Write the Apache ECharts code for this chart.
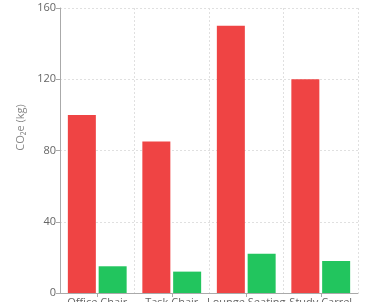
<!DOCTYPE html>
<html><head><meta charset="utf-8">
<script src="https://cdn.jsdelivr.net/npm/echarts@6/dist/echarts.min.js"></script>
<style>html,body{margin:0;padding:0;background:#fff}#c{width:375px;height:302px}</style>
</head><body><div id="c"></div>
<script>
const categories = ["Office Chair", "Task Chair", "Lounge Seating", "Study Carrel"];
const seriesA = [100, 85, 150, 120];
const seriesB = [15, 12, 22, 18];
const yTicks = [0, 40, 80, 120, 160];

const chart = echarts.init(document.getElementById('c'));
chart.setOption({
  animation: false,
  grid: {left: 60, right: 17, top: 8, bottom: 9, containLabel: false, outerBoundsMode: 'none'},
  xAxis: {
    type: 'category', data: categories,
    axisLine: {lineStyle: {color: '#aaa', width: 1}},
    axisTick: {show: true, alignWithLabel: true, length: 4, lineStyle: {color: '#aaa'}},
    axisLabel: {color: '#666', fontSize: 11, margin: 4, fontFamily: 'Open Sans', interval: 0},
    splitLine: {show: true, lineStyle: {color: '#e0e0e0', type: [2, 2]}}
  },
  yAxis: {
    type: 'value', min: yTicks[0], max: yTicks[yTicks.length - 1], interval: 40,
    name: 'CO₂e (kg)', nameLocation: 'middle', nameGap: 31,
    nameTextStyle: {color: '#888', fontSize: 11, fontFamily: 'Open Sans', padding: [0, 0, 0, 46]},
    axisLine: {show: true, lineStyle: {color: '#aaa', width: 1}},
    axisTick: {show: true, length: 4, lineStyle: {color: '#aaa'}},
    axisLabel: {color: '#666', fontSize: 11, margin: 4, fontFamily: 'Open Sans'},
    splitLine: {show: true, lineStyle: {color: '#e0e0e0', type: [2, 2]}}
  },
  series: [
    {type: 'bar', data: seriesA, barWidth: 28, barGap: '10%', itemStyle: {color: '#ef4444'}},
    {type: 'bar', data: seriesB, barWidth: 28, itemStyle: {color: '#22c55e'}}
  ]
});
</script></body></html>
